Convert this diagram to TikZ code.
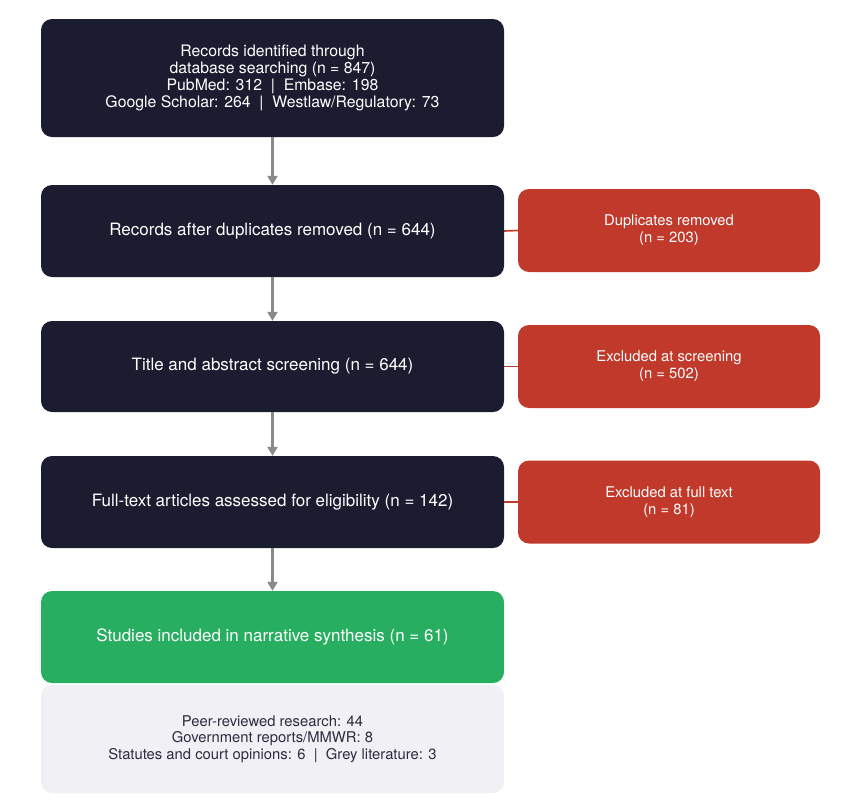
\documentclass[tikz,border=0pt]{standalone}
\usepackage{fontspec}
\setmainfont{TeX Gyre Heros}
\usetikzlibrary{arrows.meta}
\definecolor{navy}{HTML}{1B1C30}
\definecolor{redbox}{HTML}{C0392B}
\definecolor{greenbox}{HTML}{27AE60}
\definecolor{paleBox}{HTML}{F0F0F5}
\definecolor{darktext}{HTML}{2C2C3E}
\definecolor{arrowgray}{HTML}{8A8A8A}
\begin{document}
\begin{tikzpicture}[x=1pt,y=-1pt,
  stage/.style={rounded corners=11pt,fill=navy,text=white,align=center,
    minimum width=463pt,font=\fontsize{17}{19}\selectfont},
  excl/.style={rounded corners=11pt,fill=redbox,text=white,align=center,
    minimum width=302pt,minimum height=83pt,font=\fontsize{14.8}{17}\selectfont},
  flow/.style={-{Triangle[length=9pt,width=10pt]},arrowgray,line width=3pt},
  side/.style={redbox,line width=1.6pt}]
  \useasboundingbox (0,0) rectangle (842,807);
  % main column
  \node[stage,minimum height=118pt,font=\fontsize{15.8}{17}\selectfont] (ident) at (272.5,78)
    {Records identified through\\database searching (n = 847)\\PubMed: 312 \ | \ Embase: 198\\Google Scholar: 264 \ | \ Westlaw/Regulatory: 73};
  \node[stage,minimum height=92pt] (dedup) at (272.5,231) {Records after duplicates removed (n = 644)};
  \node[stage,minimum height=91pt] (screen) at (272.5,366.5) {Title and abstract screening (n = 644)};
  \node[stage,minimum height=92pt] (full) at (272.5,502) {Full-text articles assessed for eligibility (n = 142)};
  \node[stage,fill=greenbox,minimum height=92pt] (incl) at (272.5,637) {Studies included in narrative synthesis (n = 61)};
  \node[stage,fill=paleBox,text=darktext,minimum height=108pt,font=\fontsize{14.8}{16.5}\selectfont] (types) at (272.5,739)
    {Peer-reviewed research: 44\\Government reports/MMWR: 8\\Statutes and court opinions: 6 \ | \ Grey literature: 3};
  % exclusions
  \node[excl] (dup) at (669,230.5) {Duplicates removed\\(n = 203)};
  \node[excl] (exscr) at (669,366.5) {Excluded at screening\\(n = 502)};
  \node[excl] (exfull) at (669,502) {Excluded at full text\\(n = 81)};
  \draw[flow] (ident) -- (dedup);
  \draw[flow] (dedup) -- (screen);
  \draw[flow] (screen) -- (full);
  \draw[flow] (full) -- (incl);
  \draw[side] (dedup.east) -- (dup.west);
  \draw[side] (screen.east) -- (exscr.west);
  \draw[side] (full.east) -- (exfull.west);
\end{tikzpicture}
\end{document}
